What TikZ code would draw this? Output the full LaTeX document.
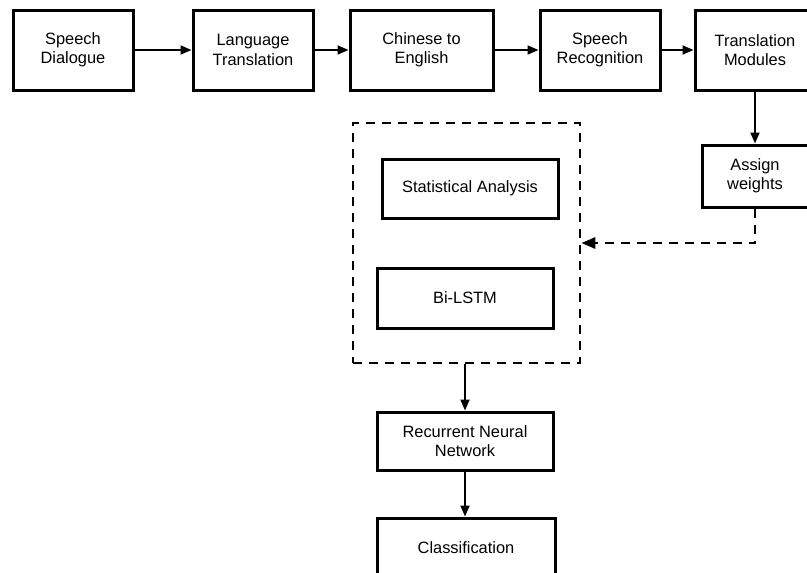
\documentclass[tikz,border=0pt]{standalone}
\usepackage{fontspec}
\setmainfont{Liberation Sans}
\usetikzlibrary{arrows.meta}
\begin{document}
\begin{tikzpicture}[
      x=1pt, y=-1pt,
      font=\fontsize{16.4}{19.2}\selectfont,
      box/.style={draw=black, line width=3pt, minimum height=80pt,
                  minimum width=120pt, align=center, fill=white, inner sep=0pt},
      smallbox/.style={draw=black, line width=3pt, minimum height=60pt,
                       minimum width=176pt, align=center, fill=white, inner sep=0pt},
      group/.style={draw=black, line width=2.7pt, dash pattern=on 9pt off 7pt,
                    minimum width=227pt, minimum height=240pt, inner sep=0pt},
      flow/.style={draw=black, -{Triangle[length=11pt, width=9pt]}, line width=1.8pt},
      context/.style={draw=black, dash pattern=on 9pt off 7pt,
                      -{Triangle[length=14pt, width=11pt]}, line width=2.7pt}
    ]
    \useasboundingbox (0,0) rectangle (807,573);

    % Translation pipeline.
    \node[box] (dialogue) at (73,50) {Speech\\Dialogue};
    \node[box] (language) at (253,50) {Language\\Translation};
    \node[box, minimum width=143pt] (chinese) at (421.5,50) {Chinese to\\English};
    \node[box] (recognition) at (600,50) {Speech\\Recognition};
    \node[box] (modules) at (755,50) {Translation\\Modules};
    \draw[flow] (dialogue) -- (language);
    \draw[flow] (language) -- (chinese);
    \draw[flow] (chinese) -- (recognition);
    \draw[flow] (recognition) -- (modules);

    % Weighting step.
    \node[box, minimum width=106pt, minimum height=62pt] (weights) at (755,176)
      {Assign\\weights};
    \draw[flow] (modules) -- (weights);

    % Model group.
    \node[group] (models) at (466.5,243) {};
    \node[smallbox, minimum height=59pt] (stats) at (470,188.5) {Statistical Analysis};
    \node[smallbox] (bilstm) at (465,298) {Bi-LSTM};
    \draw[context] (weights.south) |- (models.east);

    % Network and output.
    \node[smallbox, minimum height=58pt] (rnn) at (465,441) {Recurrent Neural\\Network};
    \node[smallbox, minimum width=178pt] (classify) at (466,548) {Classification};
    \draw[flow] (models.south -| rnn.north) -- (rnn.north);
    \draw[flow] (rnn) -- (rnn |- classify.north);
  \end{tikzpicture}
\end{document}
